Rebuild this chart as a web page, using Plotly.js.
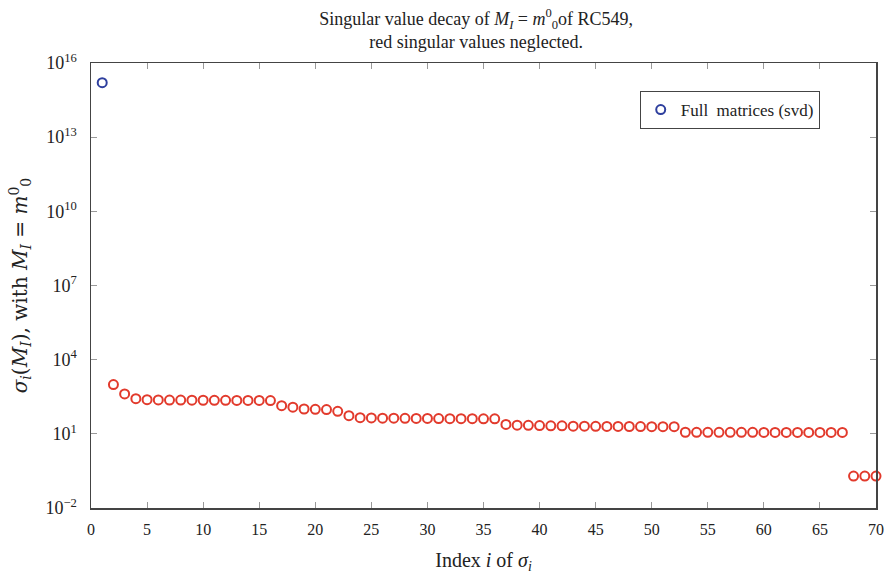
<!DOCTYPE html>
<html>
<head>
<meta charset="utf-8">
<script src="https://cdn.plot.ly/plotly-3.0.1.min.js"></script>
<style>html,body{margin:0;padding:0;background:#fff}#chart{width:890px;height:577px}</style>
</head>
<body>
<div id="chart"></div>
<script>
// Data
const fullIndex = [1];
const fullValues = [1.6e15];

const redIndex = [2,3,4,5,6,7,8,9,10,11,12,13,14,15,16,17,18,19,20,21,22,23,24,25,26,27,28,29,30,31,32,33,34,35,36,37,38,39,40,41,42,43,44,45,46,47,48,49,50,51,52,53,54,55,56,57,58,59,60,61,62,63,64,65,66,67,68,69,70];
const redValues = [
  980, 410, 265,
  240, 236, 233, 231, 229, 228, 227, 226, 225, 225, 224, 222,
  138, 120, 101, 98, 96, 81, 54, 45,
  44, 43, 43, 42.5, 42, 42, 41.5, 41, 41, 41, 40.5, 40.5,
  24, 22.5, 22, 21.5, 21, 21, 20.5, 20.5, 20.2, 20, 20, 19.8, 19.6, 19.5, 19.5, 19.5,
  11.6, 11.5, 11.5, 11.5, 11.5, 11.5, 11.5, 11.4, 11.4, 11.4, 11.4, 11.4, 11.4, 11.4, 11.4,
  0.195, 0.195, 0.195
];

const yTickVals = [1e-2, 1e1, 1e4, 1e7, 1e10, 1e13, 1e16];
const yTickText = ['10<sup>−2</sup>', '10<sup>1</sup>', '10<sup>4</sup>', '10<sup>7</sup>', '10<sup>10</sup>', '10<sup>13</sup>', '10<sup>16</sup>'];
const xTickVals = [0,5,10,15,20,25,30,35,40,45,50,55,60,65,70];

const font = 'Liberation Serif, DejaVu Serif, serif';
const wideFont = 'DejaVu Serif, Liberation Serif, serif';

const traces = [
  {
    x: fullIndex, y: fullValues, type: 'scatter', mode: 'markers',
    name: 'Full  matrices (svd)',
    marker: {symbol: 'circle-open', size: 9, color: '#2e3f9e', line: {width: 2, color: '#2e3f9e'}},
    cliponaxis: false
  },
  {
    x: redIndex, y: redValues, type: 'scatter', mode: 'markers',
    name: 'neglected', showlegend: false,
    marker: {symbol: 'circle-open', size: 9, color: '#e23a2c', line: {width: 2, color: '#e23a2c'}},
    cliponaxis: false
  }
];

const layout = {
  width: 890, height: 577,
  margin: {l: 91, r: 14, t: 63, b: 69},
  paper_bgcolor: '#fff', plot_bgcolor: '#fff',
  font: {family: font, size: 16, color: '#222'},
  title: {
    text: 'Singular value decay of <i>M<sub>I</sub></i> = <i>m</i><sup>0</sup><sub>0</sub>of RC549,<br>red singular values neglected.',
    font: {family: font, size: 18, color: '#222'},
    x: 0.535, xanchor: 'center', y: 0.957, yanchor: 'top'
  },
  xaxis: {
    range: [0, 70], tickvals: xTickVals, ticktext: xTickVals.map(String),
    ticks: 'inside', ticklen: 6, tickcolor: '#999', tickwidth: 1,
    showline: true, linecolor: '#444', linewidth: 1.5, mirror: 'allticks',
    showgrid: false, zeroline: false, ticklabelstandoff: 6,
    tickfont: {family: font, size: 16, color: '#222'},
    title: {text: 'Index <i>i</i> of <i>σ<sub>i</sub></i>', font: {family: font, size: 20, color: '#222'}, standoff: 16}
  },
  yaxis: {
    type: 'log', range: [-2, 16], tickvals: yTickVals, ticktext: yTickText,
    ticks: 'inside', ticklen: 6, tickcolor: '#999', tickwidth: 1,
    showline: true, linecolor: '#444', linewidth: 1.5, mirror: 'allticks',
    showgrid: false, zeroline: false, ticklabelstandoff: 9,
    tickfont: {family: font, size: 18, color: '#222'},
    title: {text: '<i>σ<sub>i</sub></i>(<i>M<sub>I</sub></i>), with <i>M<sub>I</sub></i> = <i>m</i><sup>0</sup><sub>0</sub>', font: {family: wideFont, size: 20, color: '#222'}, standoff: 12}
  },
  showlegend: true,
  legend: {
    x: 0.699, y: 0.937, xanchor: 'left', yanchor: 'top',
    bgcolor: '#fff', bordercolor: '#444', borderwidth: 1,
    font: {family: font, size: 17, color: '#222'},
    itemwidth: 30, tracegroupgap: 0
  }
};

Plotly.newPlot('chart', traces, layout, {displayModeBar: false, staticPlot: true});
</script>
</body>
</html>
